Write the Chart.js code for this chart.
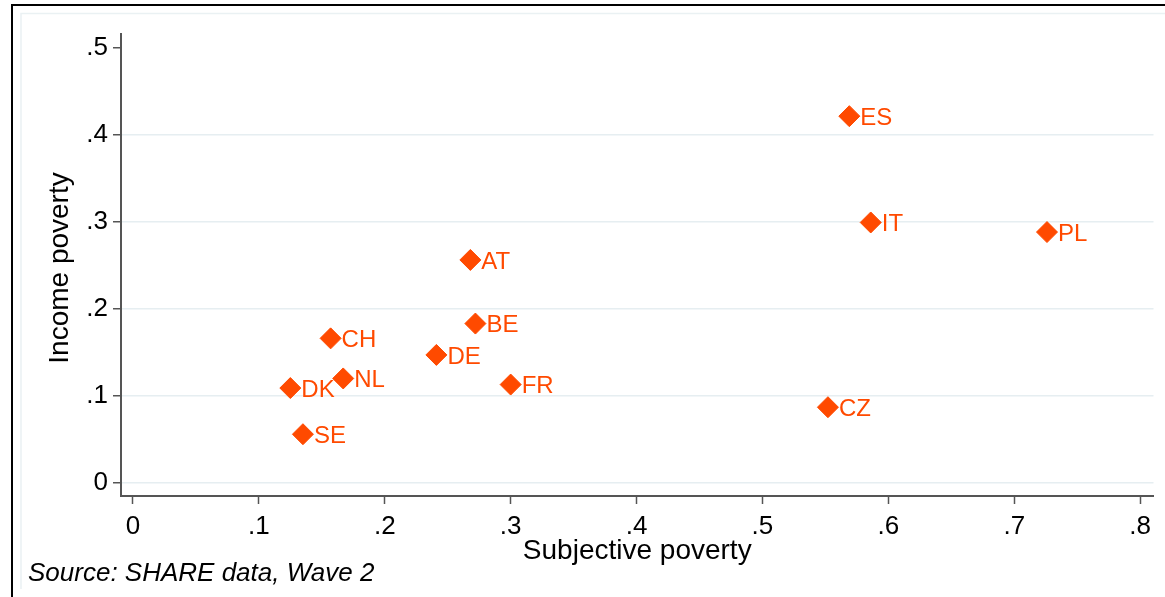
<!DOCTYPE html>
<html>
<head>
<meta charset="utf-8">
<script src="https://cdn.jsdelivr.net/npm/chart.js@4/dist/chart.umd.min.js"></script>
<style>
  html, body { margin: 0; padding: 0; background: #ffffff; }
  canvas { display: block; }
</style>
</head>
<body>
<canvas id="chart" width="1165" height="597"></canvas>
<script>
// Country codes and their poverty rates (share of population)
const countries  = ['AT', 'BE', 'CH', 'CZ', 'DE', 'DK', 'ES', 'FR', 'IT', 'NL', 'PL', 'SE'];
const subjective = [0.268, 0.272, 0.157, 0.552, 0.241, 0.125, 0.569, 0.300, 0.586, 0.167, 0.726, 0.135];
const income     = [0.256, 0.183, 0.166, 0.087, 0.147, 0.109, 0.421, 0.113, 0.299, 0.120, 0.288, 0.056];

// Axis ticks and their printed labels
const xTicks      = [0, 0.1, 0.2, 0.3, 0.4, 0.5, 0.6, 0.7, 0.8];
const xTickLabels = ['0', '.1', '.2', '.3', '.4', '.5', '.6', '.7', '.8'];
const yTicks      = [0, 0.1, 0.2, 0.3, 0.4, 0.5];
const yTickLabels = ['0', '.1', '.2', '.3', '.4', '.5'];

const xTitle = 'Subjective poverty';
const yTitle = 'Income poverty';
const note   = 'Source: SHARE data, Wave 2';

const MARK = '#ff4a00';
const AXIS = '#555555';
const GRID = '#e6eef1';
const FONT = '"Liberation Sans", Arial, Helvetica, sans-serif';

// Frames around the graph region, axis titles and the source note
const decorations = {
  id: 'decorations',
  beforeDraw(chart) {
    const ctx = chart.ctx;
    ctx.save();
    ctx.fillStyle = '#ffffff';
    ctx.fillRect(0, 0, chart.width, chart.height);
    // faint inner frame
    ctx.strokeStyle = '#eaf1f3';
    ctx.lineWidth = 1.5;
    ctx.beginPath();
    ctx.moveTo(21, 589);
    ctx.lineTo(21, 13.5);
    ctx.lineTo(chart.width, 13.5);
    ctx.stroke();
    // outer frame
    ctx.strokeStyle = '#000000';
    ctx.lineWidth = 2;
    ctx.beginPath();
    ctx.moveTo(12, chart.height);
    ctx.lineTo(12, 5);
    ctx.lineTo(chart.width, 5);
    ctx.stroke();
    ctx.restore();
  },
  afterDraw(chart) {
    const ctx = chart.ctx;
    const area = chart.chartArea;
    ctx.save();
    ctx.fillStyle = '#000000';
    ctx.textAlign = 'center';
    ctx.textBaseline = 'middle';
    ctx.font = '28px ' + FONT;
    ctx.fillText(xTitle, (area.left + area.right) / 2, 551);
    ctx.save();
    ctx.translate(60, 268);
    ctx.rotate(-Math.PI / 2);
    ctx.fillText(yTitle, 0, 0);
    ctx.restore();
    ctx.textAlign = 'left';
    ctx.textBaseline = 'alphabetic';
    ctx.font = 'italic 26px ' + FONT;
    ctx.fillText(note, 28, 581);
    ctx.restore();
  }
};

// Country code printed to the right of each marker
const pointLabels = {
  id: 'pointLabels',
  afterDatasetsDraw(chart) {
    const ctx = chart.ctx;
    const meta = chart.getDatasetMeta(0);
    ctx.save();
    ctx.fillStyle = MARK;
    ctx.font = '24px ' + FONT;
    ctx.textAlign = 'left';
    ctx.textBaseline = 'middle';
    meta.data.forEach((pt, i) => {
      ctx.fillText(countries[i], pt.x + 11, pt.y + 2);
    });
    ctx.restore();
  }
};

new Chart(document.getElementById('chart'), {
  type: 'scatter',
  data: {
    datasets: [{
      data: subjective.map((v, i) => ({ x: v, y: income[i] })),
      pointStyle: 'rectRot',
      pointRadius: 10.5,
      pointHoverRadius: 10.5,
      backgroundColor: MARK,
      borderColor: MARK,
      borderWidth: 1
    }]
  },
  options: {
    responsive: false,
    animation: false,
    devicePixelRatio: 1,
    events: [],
    layout: { padding: { left: 21, top: 34, right: 11, bottom: 0 } },
    plugins: {
      legend: { display: false },
      tooltip: { enabled: false },
      title: { display: false }
    },
    scales: {
      x: {
        type: 'linear',
        min: -0.0095,
        max: 0.8106,
        afterBuildTicks(s) { s.ticks = xTicks.map(v => ({ value: v })); },
        afterFit(s) { s.height = 101; },
        ticks: {
          callback: (v, i) => xTickLabels[i],
          color: '#000000',
          font: { family: FONT, size: 26 },
          padding: 7,
          maxRotation: 0,
          autoSkip: false
        },
        grid: {
          drawOnChartArea: false,
          tickLength: 8,
          tickColor: AXIS,
          tickWidth: 1.5
        },
        border: { display: true, color: AXIS, width: 2 }
      },
      y: {
        type: 'linear',
        min: -0.0149,
        max: 0.5153,
        afterBuildTicks(s) { s.ticks = yTicks.map(v => ({ value: v })); },
        afterFit(s) { s.width = 100; },
        ticks: {
          callback: (v, i) => yTickLabels[i],
          color: '#000000',
          font: { family: FONT, size: 26 },
          padding: 5,
          autoSkip: false
        },
        grid: {
          drawOnChartArea: true,
          color: ctx => (ctx.tick && Math.abs(ctx.tick.value - 0.5) < 1e-9) ? 'rgba(0,0,0,0)' : GRID,
          lineWidth: 1.5,
          tickLength: 8,
          tickColor: AXIS,
          tickWidth: 1.5
        },
        border: { display: true, color: AXIS, width: 2 }
      }
    }
  },
  plugins: [decorations, pointLabels]
});
</script>
</body>
</html>
